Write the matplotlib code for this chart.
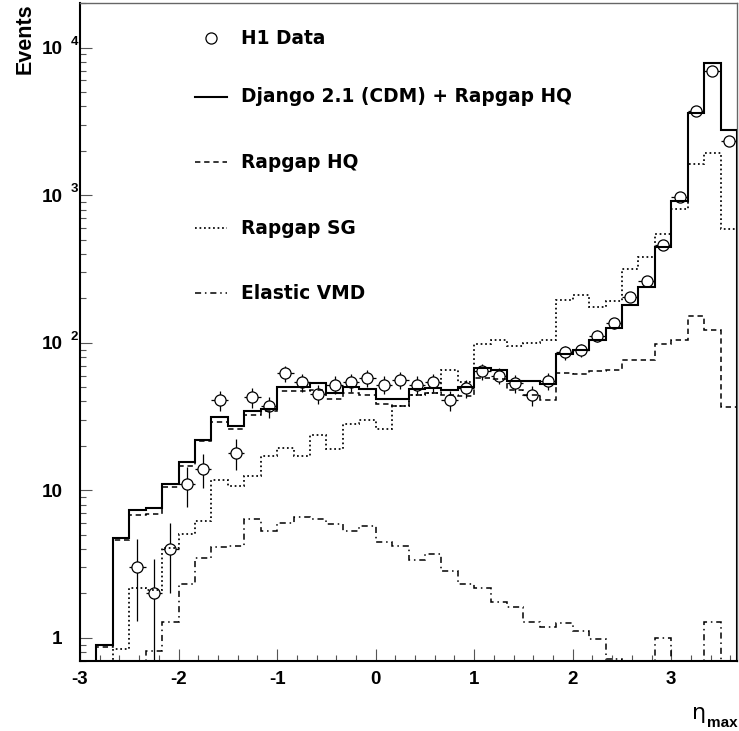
import numpy as np
import matplotlib
matplotlib.use("Agg")
import matplotlib.pyplot as plt
from matplotlib.ticker import FixedLocator, MultipleLocator, LogLocator, NullFormatter

# 40 bins of width 1/6 from -3 to 11/3
eta_lo = -3.0
eta_hi = 11.0 / 3.0
n_bins = 40

data = [0, 0, 0, 3, 2, 4, 11, 14, 41, 18, 43, 37, 62, 54, 45, 52, 54, 58, 52, 56,
        52, 54, 41, 49, 64, 60, 53, 44, 55, 86, 89, 112, 136, 204, 262, 458, 966, 3740, 6920, 2320]
data_err = [0, 0, 0, 1.7, 1.4, 2.0, 3.3, 3.7, 6.4, 4.2, 6.6, 6.1, 7.9, 7.3, 6.7, 7.2, 7.3, 7.6, 7.2, 7.5,
            7.2, 7.3, 6.4, 7.0, 8.0, 7.7, 7.3, 6.6, 7.4, 9.3, 9.4, 10.6, 11.7, 14.3, 16.2, 21.4, 31.1, 61.2, 83.2, 48.2]

django_total = [0, 0.9, 4.75, 7.3, 7.55, 11.1, 15.5, 22.1, 31.2, 27.2, 34.4, 35.7, 50.3, 50.3, 53, 45.8, 49.8, 48.3, 41.3, 41.3,
                48.3, 49, 47.6, 49.8, 67.8, 65.7, 54.7, 54.7, 52.5, 84.3, 89.2, 105, 125, 180, 240, 449, 916, 3590, 7850, 2770]
rapgap_hq = [0, 0.87, 4.62, 6.77, 6.95, 10.6, 14.6, 21.6, 29.2, 26.2, 32.6, 34.4, 47, 47, 47.6, 41.8, 45.8, 44.6, 38.7, 37.2,
             44, 45.4, 44, 43.6, 58, 56.5, 47.6, 44.6, 40.9, 62.7, 61, 64.3, 65, 76.3, 77, 98.6, 105, 152, 122, 36.6]
rapgap_sg = [0, 0, 0.84, 2.17, 2.1, 4.06, 5.06, 6.16, 11.66, 10.7, 12.6, 17.0, 19.4, 17.2, 23.7, 19.1, 28.2, 29.9, 26.2, 37,
             44, 46, 65, 54, 98.6, 104, 95.2, 100, 105, 195, 212, 176, 192, 318, 384, 545, 805, 1626, 1930, 595]
elastic_vmd = [0, 0, 0, 0, 0.82, 1.29, 2.3, 3.5, 4.12, 4.2, 6.43, 5.27, 6.0, 6.6, 6.42, 5.88, 5.27, 5.7, 4.46, 4.17,
               3.35, 3.72, 2.86, 2.31, 2.17, 1.76, 1.61, 1.28, 1.19, 1.27, 1.12, 0.98, 0.72, 0, 0, 1.0, 0, 0, 1.29, 0]

labels = ["H1 Data", "Django 2.1 (CDM) + Rapgap HQ", "Rapgap HQ", "Rapgap SG", "Elastic VMD"]

edges = np.linspace(eta_lo, eta_hi, n_bins + 1)
centers = 0.5 * (edges[:-1] + edges[1:])
half_w = 0.5 * (edges[1] - edges[0])

W, H = 739, 731
fig = plt.figure(figsize=(W / 100, H / 100), dpi=100)
ax = fig.add_axes([80 / W, 1 - 660.7 / H, 657 / W, 657.4 / H])
ax.set_yscale("log")

floor = 1e-3
styles = [
    ("-", 1.5),
    ((0, (3.5, 2.5)), 1.1),
    ((0, (1, 1.6)), 1.25),
    ((0, (4, 2.5, 1, 2.5)), 1.1),
]
series = [django_total, rapgap_hq, rapgap_sg, elastic_vmd]

# data first, histograms drawn on top (as in the original)
d = np.array(data, float)
e = np.array(data_err, float)
m = d > 0
ax.errorbar(centers[m], d[m], yerr=e[m], xerr=half_w, fmt="o", ms=8, mfc="white", mec="black",
            mew=0.9, ecolor="black", elinewidth=0.9, capsize=0, zorder=2)

for vals, (ls, lw) in zip(series, styles):
    v = np.clip(np.array(vals, float), floor, None)
    ax.stairs(v, edges, baseline=floor, color="black", linestyle=ls, linewidth=lw, zorder=3)

ax.set_xlim(eta_lo, eta_hi)
ax.set_ylim(0.70, 2.0e4)

for s in ["left", "bottom"]:
    ax.spines[s].set_linewidth(1.5)
    ax.spines[s].set_color("black")
for s in ["top", "right"]:
    ax.spines[s].set_linewidth(1.0)
    ax.spines[s].set_color("#666666")

ax.xaxis.set_major_locator(FixedLocator([-3, -2, -1, 0, 1, 2, 3]))
ax.xaxis.set_minor_locator(MultipleLocator(0.2))
ax.yaxis.set_major_locator(LogLocator(base=10, numticks=10))
ax.yaxis.set_minor_locator(LogLocator(base=10, subs=np.arange(2, 10), numticks=20))
ax.yaxis.set_major_formatter(NullFormatter())
ax.yaxis.set_minor_formatter(NullFormatter())
ax.tick_params(which="both", direction="in", color="#555555", width=0.8, top=False, right=False)
ax.tick_params(which="major", length=8.5)
ax.tick_params(which="minor", length=4.3)
ax.tick_params(axis="x", which="major", pad=7.5)

ax.set_xticklabels(["-3", "-2", "-1", "0", "1", "2", "3"], fontfamily="Liberation Sans",
                   fontweight="bold", fontsize=13.5)

# y labels in ROOT style: 1, 10, 10^2 ...
ytr = ax.get_yaxis_transform()
for p in range(0, 5):
    base = "1" if p == 0 else "10"
    ax.annotate(base, xy=(0, 10.0 ** p), xycoords=ytr, xytext=(-12.5, -1.5), textcoords="offset points",
                ha="right", va="center", fontfamily="Liberation Sans", fontweight="bold", fontsize=13.6)
    if p >= 2:
        ax.annotate(str(p), xy=(0, 10.0 ** p), xycoords=ytr, xytext=(-6.5, 4.2), textcoords="offset points",
                    ha="left", va="center", fontfamily="Liberation Sans", fontweight="bold", fontsize=9.5)

fig.text(25 / W, 1 - 3 / H, "Events", rotation=90, ha="center", va="top",
         fontfamily="Liberation Sans", fontweight="bold", fontsize=15.5)

fig.text(692 / W, 1 - 719 / H, "\u03b7", ha="left", va="baseline", fontfamily="DejaVu Sans", fontsize=16)
fig.text(707 / W, 1 - 727 / H, "max", ha="left", va="baseline", fontfamily="Liberation Sans",
         fontweight="bold", fontsize=11)

# legend drawn by hand
leg_y = [0.947, 0.858, 0.758, 0.658, 0.559]
x0, x1, xt = 0.175, 0.224, 0.245
ax.plot([0.5 * (x0 + x1)], [leg_y[0]], "o", ms=8, mfc="white", mec="black", mew=0.9, transform=ax.transAxes)
for yy, (ls, lw) in zip(leg_y[1:], styles):
    ax.plot([x0, x1], [yy, yy], color="black", linestyle=ls, linewidth=lw, transform=ax.transAxes)
for yy, lab in zip(leg_y, labels):
    ax.text(xt, yy, lab, transform=ax.transAxes, ha="left", va="center", fontfamily="DejaVu Sans",
            fontweight="bold", fontsize=13.4)

fig.savefig("out.png", dpi=100)
